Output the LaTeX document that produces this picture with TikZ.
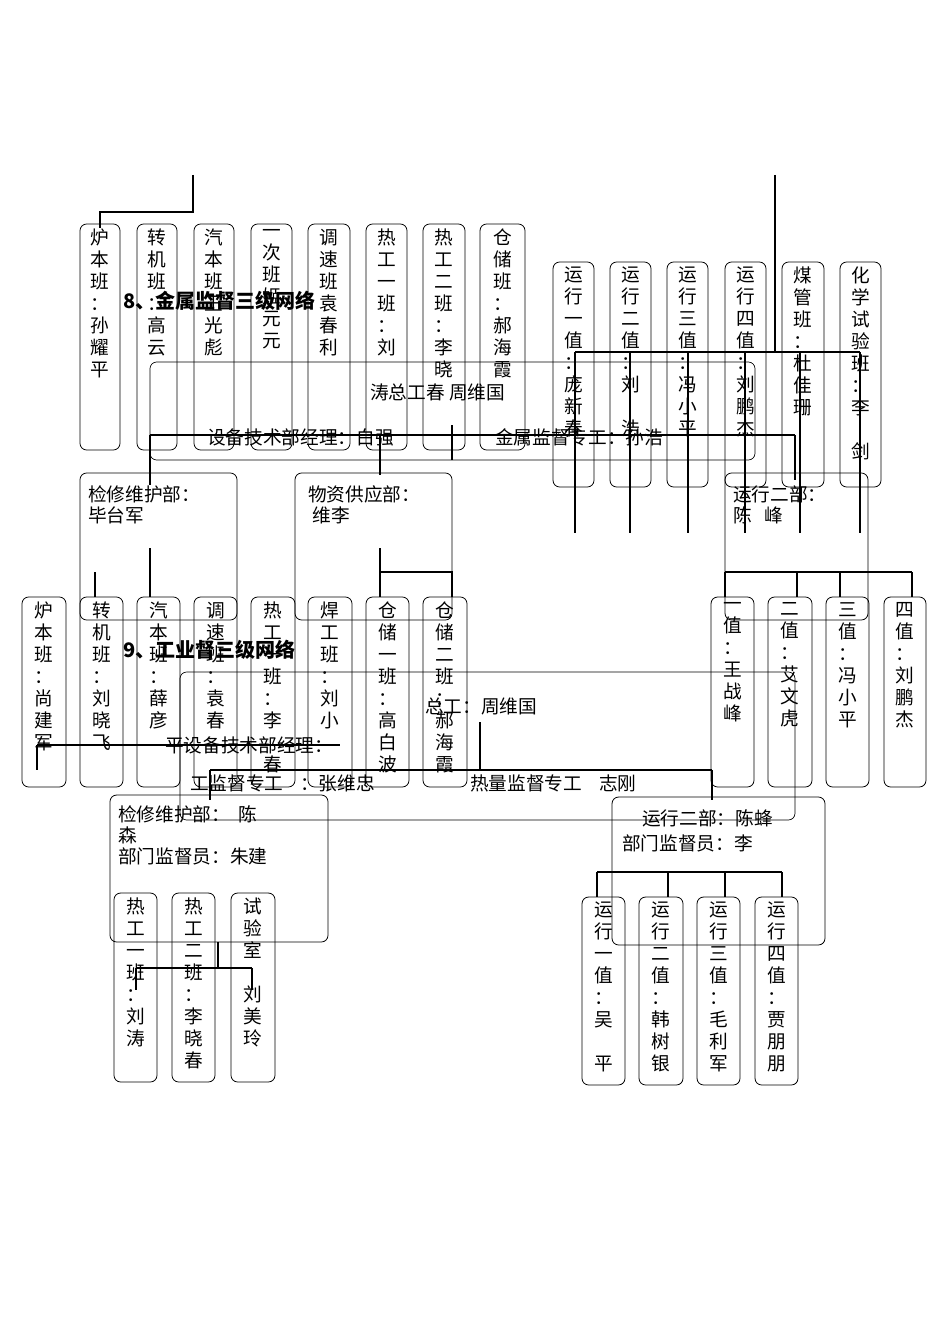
\documentclass[tikz,border=0pt]{standalone}
\usepackage{fontspec}
\setmainfont{Noto Sans CJK SC}
\begin{document}
\begin{tikzpicture}[x=0.75pt,y=-0.75pt,
 box/.style={draw,rounded corners=5pt,line width=0.6pt},
 vt/.style={font=\fontsize{14}{16.5}\selectfont,align=center,inner sep=0pt,anchor=north},
 tx/.style={font=\fontsize{14}{16}\selectfont,inner sep=0pt,anchor=west},
 th/.style={line width=2.2pt}]
\useasboundingbox (0,0) rectangle (950,1344);
\fill[white] (0,0) rectangle (950,1344);
\newcommand\vbx[6]{\draw[box] (#1,#2) rectangle (#3,#4); \node[vt] (#6) at ({(#1+#3)/2},#2+5) {#5};}
% ---- section 8 top
\draw[th] (193,175) -- (193,212) -- (100,212) -- (100,228);
\vbx{80}{224}{120}{450}{炉\\本\\班\\：\\孙\\耀\\平}{a1}
\vbx{137}{224}{177}{450}{转\\机\\班\\：\\高\\云}{a2}
\vbx{194}{224}{234}{450}{汽\\本\\班\\王\\光\\彪}{a3}
\vbx{251}{224}{292}{450}{一\\次\\班\\姬\\元\\元}{a4}
\vbx{308}{224}{350}{450}{调\\速\\班\\袁\\春\\利}{a5}
\vbx{366}{224}{407}{450}{热\\工\\一\\班\\：\\刘}{a6}
\vbx{423}{224}{465}{450}{热\\工\\二\\班\\：\\李\\晓}{a7}
\vbx{480}{224}{525}{450}{仓\\储\\班\\：\\郝\\海\\霞}{a8}
\node[tx,font=\bfseries\fontsize{15}{16}\selectfont] (t8) at (123,301) {8、金属监督三级网络};
\vbx{553}{262}{594}{487}{运\\行\\一\\值\\：\\庞\\新\\春}{b1}
\vbx{610}{262}{651}{487}{运\\行\\二\\值\\：\\刘\\\\浩}{b2}
\vbx{667}{262}{708}{487}{运\\行\\三\\值\\：\\冯\\小\\平}{b3}
\vbx{725}{262}{766}{487}{运\\行\\四\\值\\：\\刘\\鹏\\杰}{b4}
\vbx{782}{262}{824}{487}{煤\\管\\班\\：\\杜\\佳\\珊}{b5}
\vbx{840}{262}{881}{487}{化\\学\\试\\验\\班\\：\\李\\\\剑}{b6}
\draw[box,line width=0.5pt] (150,362) rectangle (755,460);
\node[tx] (z1) at (370,392) {涛总工春 周维国};
\node[tx] (z2) at (207,437) {设备技术部经理：白强};
\node[tx] (z3) at (495,437) {金属监督专工：孙浩};
\draw[th] (775,175) -- (775,352);
\draw[th] (575,352) -- (860,352);
\foreach \x in {575,630,688,745,800,860} \draw[th] (\x,352) -- (\x,533);
\draw[th] (150,435) -- (795,435);
\draw[th] (150,435) -- (150,485);
\draw[th] (380,435) -- (380,475);
\draw[th] (452,425) -- (452,460);
\draw[th] (795,435) -- (795,480);
\draw[box] (80,473) rectangle (237,620);
\node[tx,anchor=north west,align=left] (c1) at (88,485) {检修维护部：\\毕台军};
\draw[box] (295,473) rectangle (452,620);
\node[tx,anchor=north west,align=left] (c2) at (308,485) {物资供应部：\\\ 维李};
\draw[box] (725,473) rectangle (868,620);
\node[tx,anchor=north west,align=left] (c3) at (733,485) {运行二部：\\陈\ \ \ 峰};
\draw[th] (150,548) -- (150,597);
\draw[th] (95,572) -- (95,597);
\draw[th] (380,548) -- (380,572) -- (452,572) -- (452,597);
\draw[th] (380,572) -- (380,597);
\draw[th] (725,572) -- (912,572);
\foreach \x in {725,797,840,912} \draw[th] (\x,572) -- (\x,597);
\vbx{22}{597}{66}{787}{炉\\本\\班\\：\\尚\\建\\军}{d1}
\vbx{80}{597}{123}{787}{转\\机\\班\\：\\刘\\晓\\飞}{d2}
\vbx{137}{597}{180}{787}{汽\\本\\班\\：\\薛\\彦}{d3}
\vbx{194}{597}{237}{787}{调\\速\\班\\：\\袁\\春}{d4}
\vbx{251}{597}{295}{787}{热\\工\\一\\班\\：\\李\\\\春}{d5}
\vbx{308}{597}{352}{787}{焊\\工\\班\\：\\刘\\小}{d6}
\vbx{366}{597}{409}{787}{仓\\储\\一\\班\\：\\高\\白\\波}{d7}
\vbx{423}{597}{467}{787}{仓\\储\\二\\班\\：\\郝\\海\\霞}{d8}
\vbx{711}{597}{754}{787}{一\\值\\：\\王\\战\\峰}{e1}
\vbx{768}{597}{812}{787}{二\\值\\：\\艾\\文\\虎}{e2}
\vbx{826}{597}{869}{787}{三\\值\\：\\冯\\小\\平}{e3}
\vbx{884}{597}{926}{787}{四\\值\\：\\刘\\鹏\\杰}{e4}
% ---- section 9
\node[tx,font=\bfseries\fontsize{15}{16}\selectfont] (t9) at (123,650) {9、工业督三级网络};
\draw[box,line width=0.5pt] (180,672) rectangle (795,820);
\node[tx] (f1) at (425,706) {总工：周维国};
\node[tx] (f2) at (165,745) {平设备技术部经理：};
\node[tx] (f3) at (190,783) {工监督专工\ \ \ \ ：张维忠};
\node[tx] (f4) at (470,783) {热量监督专工\ \ \ \ 志刚};
\draw[th] (37,745) -- (340,745);
\draw[th] (37,745) -- (37,770);
\draw[th] (480,722) -- (480,770);
\draw[th] (210,770) -- (712,770);
\draw[th] (210,770) -- (210,800);
\draw[th] (712,770) -- (712,800);
\draw[box] (110,795) rectangle (328,942);
\node[tx,anchor=north west,align=left] (g1) at (118,805) {检修维护部：\ \ 陈\\森\\部门监督员：朱建};
\draw[box] (612,797) rectangle (825,945);
\node[tx] (g2) at (642,818) {运行二部：陈蜂};
\node[tx] (g3) at (622,843) {部门监督员：李};
\vbx{114}{893}{157}{1082}{热\\工\\一\\班\\：\\刘\\涛}{h1}
\vbx{172}{893}{215}{1082}{热\\工\\二\\班\\：\\李\\晓\\春}{h2}
\vbx{231}{893}{275}{1082}{试\\验\\室\\\\刘\\美\\玲}{h3}
\draw[th] (218,942) -- (218,968);
\draw[th] (136,968) -- (252,968);
\draw[th] (136,968) -- (136,990);
\draw[th] (252,968) -- (252,990);
\draw[th] (597,872) -- (782,872);
\foreach \x in {597,668,725,782} \draw[th] (\x,872) -- (\x,897);
\vbx{582}{897}{625}{1085}{运\\行\\一\\值\\：\\吴\\\\平}{k1}
\vbx{639}{897}{683}{1085}{运\\行\\二\\值\\：\\韩\\树\\银}{k2}
\vbx{697}{897}{740}{1085}{运\\行\\三\\值\\：\\毛\\利\\军}{k3}
\vbx{755}{897}{798}{1085}{运\\行\\四\\值\\：\\贾\\朋\\朋}{k4}
\end{tikzpicture}
\end{document}
